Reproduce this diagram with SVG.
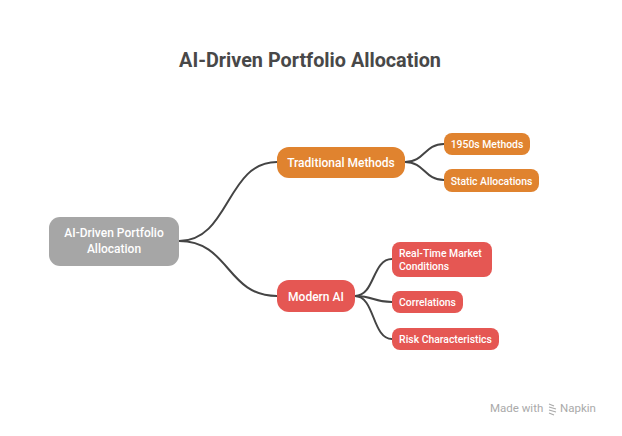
<svg xmlns="http://www.w3.org/2000/svg" width="622" height="436" viewBox="0 0 622 436">
<style>
.t{font-family:Roboto,"Liberation Sans",sans-serif;fill:#fff;font-weight:500;text-anchor:middle}
.s{font-size:10.4px}
.m{font-size:12px}
.c{fill:none;stroke:#444;stroke-width:2;stroke-linecap:round}
.o{fill:#E0832F}
.r{fill:#E55753}
</style>
<rect width="622" height="436" fill="#fff"/>
<text x="310" y="67" font-family="Roboto,'Liberation Sans',sans-serif" font-weight="700" font-size="19.8" fill="#484848" text-anchor="middle">AI-Driven Portfolio Allocation</text>
<g id="connectors">
<path class="c" d="M179,241 C230,241 226,162 277,162"/>
<path class="c" d="M179,241 C230,241 226,296 277,296"/>
<path class="c" d="M405,162 C425,162 424,144 444,144"/>
<path class="c" d="M405,162 C425,162 424,180 444,180"/>
<path class="c" d="M355,296 C375,296 372,259 392,259"/>
<path class="c" d="M355,296 C375,296 372,302 392,302"/>
<path class="c" d="M355,296 C375,296 372,339 392,339"/>
</g>
<g id="root">
<rect x="49" y="217" width="130" height="49" rx="11" fill="#A6A6A6"/>
<text class="t m" x="114" y="237">AI-Driven Portfolio</text>
<text class="t m" x="114" y="253">Allocation</text>
</g>
<g id="traditional">
<rect class="o" x="277" y="147" width="128" height="31" rx="12"/>
<text class="t m" x="341" y="167">Traditional Methods</text>
</g>
<g id="n1950s">
<rect class="o" x="444" y="133" width="86" height="22" rx="8"/>
<text class="t s" x="487" y="148">1950s Methods</text>
</g>
<g id="static">
<rect class="o" x="444" y="169" width="95" height="23" rx="8"/>
<text class="t s" x="491.5" y="184.5">Static Allocations</text>
</g>
<g id="modern">
<rect class="r" x="277" y="280" width="78" height="32" rx="12"/>
<text class="t m" x="316" y="300.5">Modern AI</text>
</g>
<g id="realtime">
<rect class="r" x="392" y="242" width="100" height="35" rx="8"/>
<text class="t s" x="399" y="257" style="text-anchor:start">Real-Time Market</text>
<text class="t s" x="399" y="270" style="text-anchor:start">Conditions</text>
</g>
<g id="correlations">
<rect class="r" x="392" y="291" width="71" height="22" rx="8"/>
<text class="t s" x="427.5" y="306">Correlations</text>
</g>
<g id="risk">
<rect class="r" x="392" y="328" width="107" height="22" rx="8"/>
<text class="t s" x="445.5" y="343">Risk Characteristics</text>
</g>
<g id="watermark">
<text x="490" y="412" font-family="Roboto,'Liberation Sans',sans-serif" font-size="11.5" fill="#aaa">Made with</text>
<path d="M549,404 l5,2 M549,407 l7,2 M549,410 l7,2 M549,413 l5,2" stroke="#aaa" stroke-width="1.2" fill="none"/>
<text x="560" y="412" font-family="Roboto,'Liberation Sans',sans-serif" font-size="11.5" fill="#aaa">Napkin</text>
</g>
</svg>
